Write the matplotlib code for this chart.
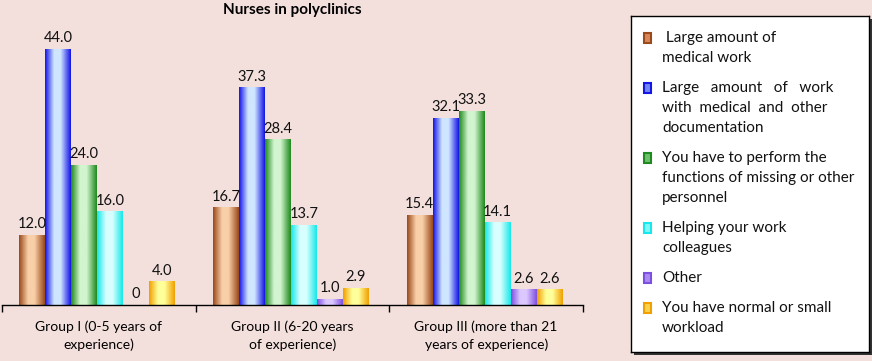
import numpy as np
import matplotlib
matplotlib.use("Agg")
import matplotlib.pyplot as plt
from matplotlib.colors import LinearSegmentedColormap
from matplotlib.patches import Rectangle

plt.rcParams["font.family"] = ["Lato", "DejaVu Sans"]

groups = [
    "Group I (0-5 years of\nexperience)",
    "Group II (6-20 years\nof experience)",
    "Group III (more than 21\nyears of experience)",
]
series = [
    " Large amount of\nmedical work",
    "Large   amount   of   work\nwith  medical  and  other\ndocumentation",
    "You have to perform the\nfunctions of missing or other\npersonnel",
    "Helping your work\ncolleagues",
    "Other",
    "You have normal or small\nworkload",
]
medical_work = [12.0, 16.7, 15.4]
documentation = [44.0, 37.3, 32.1]
missing_personnel = [24.0, 28.4, 33.3]
helping = [16.0, 13.7, 14.1]
other = [0, 1.0, 2.6]
normal_load = [4.0, 2.9, 2.6]
values = [medical_work, documentation, missing_personnel, helping, other, normal_load]
labels_fmt = [["12.0", "16.7", "15.4"], ["44.0", "37.3", "32.1"], ["24.0", "28.4", "33.3"],
              ["16.0", "13.7", "14.1"], ["0", "1.0", "2.6"], ["4.0", "2.9", "2.6"]]

# (edge, highlight, legend fill) colours for the cylinder-like shading
shades = [
    ("#9a4a1c", "#f9cfa8", "#d8875a"),
    ("#1515e6", "#cfe6ff", "#6f86f5"),
    ("#1f8a1f", "#d2f5cf", "#6cc06a"),
    ("#18e8ea", "#d8ffff", "#7ff7f8"),
    ("#7d4fe0", "#dcc8ff", "#a98af0"),
    ("#f0a000", "#ffff9a", "#f9d24c"),
]

bg = "#f3e0dc"
W, H = 872, 361
fig = plt.figure(figsize=(W / 100, H / 100), dpi=100, facecolor=bg)

ax = fig.add_axes([2 / W, (H - 305) / H, 581 / W, 275 / H])
ax.set_facecolor(bg)

n = len(values)
width = 26 / 194
x = np.arange(len(groups))
grad = np.linspace(0, 1, 64).reshape(1, -1)

for i, (vals, (dark, light, _)) in enumerate(zip(values, shades)):
    cm = LinearSegmentedColormap.from_list(
        f"c{i}", [(0, dark), (0.35, light), (0.6, light), (1.0, dark)])
    pos = x + (i - (n - 1) / 2) * width - 0.008
    bars = ax.bar(pos, vals, width, color="none", edgecolor="none", zorder=2)
    for b, lab in zip(bars, labels_fmt[i]):
        x0, w, h = b.get_x(), b.get_width(), b.get_height()
        if h > 0:
            ax.imshow(grad, extent=[x0, x0 + w, 0, h], aspect="auto", cmap=cm,
                      zorder=2, interpolation="bilinear")
        ax.annotate(lab, (x0 + w / 2, h), xytext=(0, 3), textcoords="offset points",
                    ha="center", va="bottom", fontsize=10.5, color="#111111")

ax.set_xlim(-0.5, len(groups) - 0.5)
ax.set_ylim(0, 275 / (256 / 44.0))
ax.set_xticks(np.arange(len(groups) + 1) - 0.5)
ax.set_xticklabels([])
ax.set_xticks(x, groups, minor=True)
ax.tick_params(axis="x", which="major", length=5, width=1, color="black", direction="out")
ax.tick_params(axis="x", which="minor", length=0, pad=11, labelsize=10)
for t in ax.get_xticklabels(minor=True):
    t.set_linespacing(1.55)
ax.set_yticks([])
for s in ["top", "right", "left"]:
    ax.spines[s].set_visible(False)
ax.spines["bottom"].set_color("black")
ax.spines["bottom"].set_linewidth(1)

fig.text(292 / W, 1 - 10 / H, "Nurses in polyclinics", ha="center", va="center",
         fontsize=11, fontweight="bold")

# legend box drawn in pixel units, with a drop shadow
lx0, ly0, lw, lh = 631, 16, 238, 336
shadow = fig.add_axes([(lx0 + 3) / W, (H - ly0 - lh - 3) / H, lw / W, lh / H])
shadow.set_facecolor("#333333")
shadow.set_xticks([])
shadow.set_yticks([])
for s in shadow.spines.values():
    s.set_visible(False)

lax = fig.add_axes([lx0 / W, (H - ly0 - lh) / H, lw / W, lh / H])
lax.set_facecolor("white")
lax.set_xlim(0, lw)
lax.set_ylim(lh, 0)
lax.set_xticks([])
lax.set_yticks([])
for s in lax.spines.values():
    s.set_color("black")
    s.set_linewidth(1)

line_h = 20
y = 22
for lab, (dark, light, mid) in zip(series, shades):
    lax.add_patch(Rectangle((13, y - 5), 7, 10, facecolor=mid, edgecolor=dark, linewidth=1.5))
    for k, part in enumerate(lab.split("\n")):
        lax.text(31, y + k * line_h, part, ha="left", va="center", fontsize=11,
                 color="#111111")
    y += (lab.count("\n") + 1) * line_h + 10

fig.savefig("out.png", dpi=100, facecolor=bg)
